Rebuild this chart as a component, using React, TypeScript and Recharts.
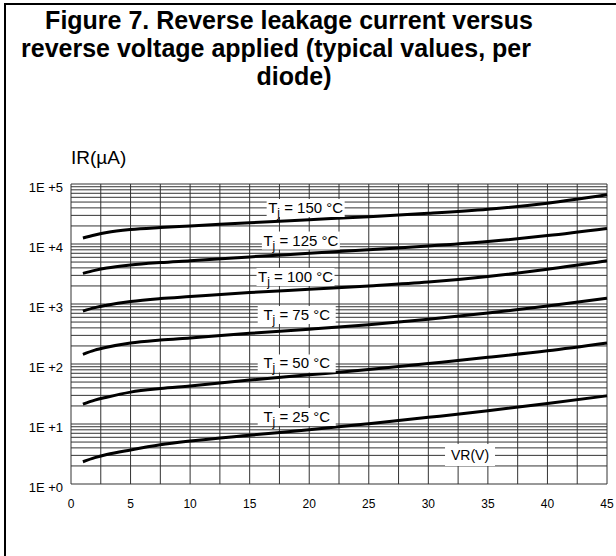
import React from "react";
import { CartesianGrid, Line, LineChart, ReferenceDot, XAxis, YAxis } from "recharts";

// reverse voltage (V) where curves were read
const VR = [1, 2, 3, 5, 7.5, 10, 15, 20, 25, 30, 35, 40, 45];

// reverse leakage current (µA) per junction temperature
const IR_25C = [2.35, 2.75, 3.1, 3.7, 4.5, 5.2, 6.5, 8.0, 10.1, 12.9, 16.6, 21.9, 29.5];
const IR_50C = [21.4, 25, 28, 34, 39, 43, 54, 66, 81, 102, 129, 166, 224];
const IR_75C = [145, 170, 190, 224, 251, 272, 324, 380, 452, 556, 708, 923, 1245];
const IR_100C = [760, 870, 955, 1100, 1230, 1330, 1550, 1760, 2000, 2320, 2880, 3800, 5250];
const IR_125C = [3240, 3630, 3980, 4470, 4900, 5250, 6100, 7000, 8040, 9230, 10960, 13800, 18200];
const IR_150C = [12600, 14100, 15500, 17400, 18800, 19950, 22600, 25400, 28500, 32400, 38000, 47900, 66000];

const X_TICKS = [0, 5, 10, 15, 20, 25, 30, 35, 40, 45];
const Y_TICKS = [1, 10, 100, 1000, 10000, 100000];
const Y_TICK_LABELS = ["1E +0", "1E +1", "1E +2", "1E +3", "1E +4", "1E +5"];

// curve labels: text, and where they sit (V, µA)
const CURVE_LABELS = ["150 °C", "125 °C", "100 °C", "75 °C", "50 °C", "25 °C"];
const CURVE_LABEL_X = [19.7, 19.3, 18.85, 18.95, 18.95, 18.95];
const CURVE_LABEL_Y = [39800, 11430, 2820, 656, 102, 13.1];

const FONT = '"Liberation Sans", Arial, sans-serif';

const data = VR.map((v, i) => ({
  vr: v,
  t25: IR_25C[i],
  t50: IR_50C[i],
  t75: IR_75C[i],
  t100: IR_100C[i],
  t125: IR_125C[i],
  t150: IR_150C[i],
}));

// log grid: 1..9 in every decade, and every 2.5 V
const gridY: number[] = [];
for (let d = 0; d < 5; d++) {
  for (let m = 1; m < 10; m++) gridY.push(m * Math.pow(10, d));
}
gridY.push(100000);
const gridX: number[] = [];
for (let v = 0; v <= 45; v += 2.5) gridX.push(v);

const XTick = (props: any) => {
  const { x, y, payload } = props;
  return (
    <text x={x} y={y + 16} textAnchor="middle" fontSize={12} fontFamily={FONT} fill="#000">
      {payload.value}
    </text>
  );
};

const YTick = (props: any) => {
  const { x, y, payload } = props;
  const idx = Y_TICKS.indexOf(payload.value);
  return (
    <text x={x} y={y + 8} textAnchor="end" fontSize={13} fontFamily={FONT} fill="#000">
      {Y_TICK_LABELS[idx]}
    </text>
  );
};

const tjLabel = (text: string) => (props: any) => {
  const { cx, cy } = props;
  return (
    <g>
      <rect x={cx - 39} y={cy - 9} width={78} height={18} fill="#fff" />
      <text x={cx} y={cy + 5} textAnchor="middle" fontSize={15} fontFamily={FONT} fill="#000">
        T
        <tspan fontSize={12} dy={4}>j</tspan>
        <tspan dy={-4}>{" = " + text}</tspan>
      </text>
    </g>
  );
};

const vrLabel = (props: any) => {
  const { cx, cy } = props;
  return (
    <g>
      <rect x={cx - 25} y={cy - 11} width={50} height={22} fill="#fff" />
      <text x={cx} y={cy + 5} textAnchor="middle" fontSize={14} fontFamily={FONT} fill="#000">
        VR(V)
      </text>
    </g>
  );
};

const series = ["t25", "t50", "t75", "t100", "t125", "t150"];

export default function App() {
  return (
    <div
      style={{
        position: "absolute",
        left: 0,
        top: 0,
        width: 616,
        height: 556,
        background: "#fff",
        overflow: "hidden",
        fontFamily: FONT,
      }}
    >
      <div
        style={{
          position: "absolute",
          left: 4,
          top: 3,
          width: 640,
          height: 600,
          borderLeft: "2px solid #000",
          borderTop: "2px solid #000",
        }}
      />
      {[
        { t: "Figure 7. Reverse leakage current versus", c: 289, top: 6 },
        { t: "reverse voltage applied (typical values, per", c: 276, top: 34 },
        { t: "diode)", c: 294, top: 62 },
      ].map((l) => (
        <div
          key={l.t}
          style={{
            position: "absolute",
            left: l.c - 300,
            width: 600,
            top: l.top,
            textAlign: "center",
            fontWeight: "bold",
            fontSize: 25,
            lineHeight: "29px",
            whiteSpace: "nowrap",
            color: "#000",
          }}
        >
          {l.t}
        </div>
      ))}
      <div style={{ position: "absolute", left: 71, top: 147, fontSize: 19, color: "#000" }}>IR(µA)</div>
      <div style={{ position: "absolute", left: 0, top: 0 }}>
        <LineChart width={616} height={556} data={data} margin={{ top: 184, right: 9, bottom: 42, left: 11 }}>
          <CartesianGrid
            stroke="#333"
            strokeWidth={1}
            horizontalValues={gridY}
            verticalValues={gridX}
          />
          <XAxis
            dataKey="vr"
            type="number"
            domain={[0, 45]}
            ticks={X_TICKS}
            height={30}
            tick={<XTick />}
            axisLine={false}
            tickLine={false}
            interval={0}
          />
          <YAxis
            type="number"
            scale="log"
            domain={[1, 100000]}
            ticks={Y_TICKS}
            width={60}
            tick={<YTick />}
            axisLine={false}
            tickLine={false}
            interval={0}
            allowDataOverflow
          />
          {CURVE_LABELS.map((t, i) => (
            <ReferenceDot
              key={t}
              x={CURVE_LABEL_X[i]}
              y={CURVE_LABEL_Y[i]}
              r={0}
              ifOverflow="visible"
              shape={tjLabel(t)}
            />
          ))}
          <ReferenceDot x={33.5} y={3.04} r={0} ifOverflow="visible" shape={vrLabel} />
          {series.map((k) => (
            <Line
              key={k}
              dataKey={k}
              type="monotone"
              stroke="#000"
              strokeWidth={3}
              dot={false}
              isAnimationActive={false}
            />
          ))}
        </LineChart>
      </div>
    </div>
  );
}
